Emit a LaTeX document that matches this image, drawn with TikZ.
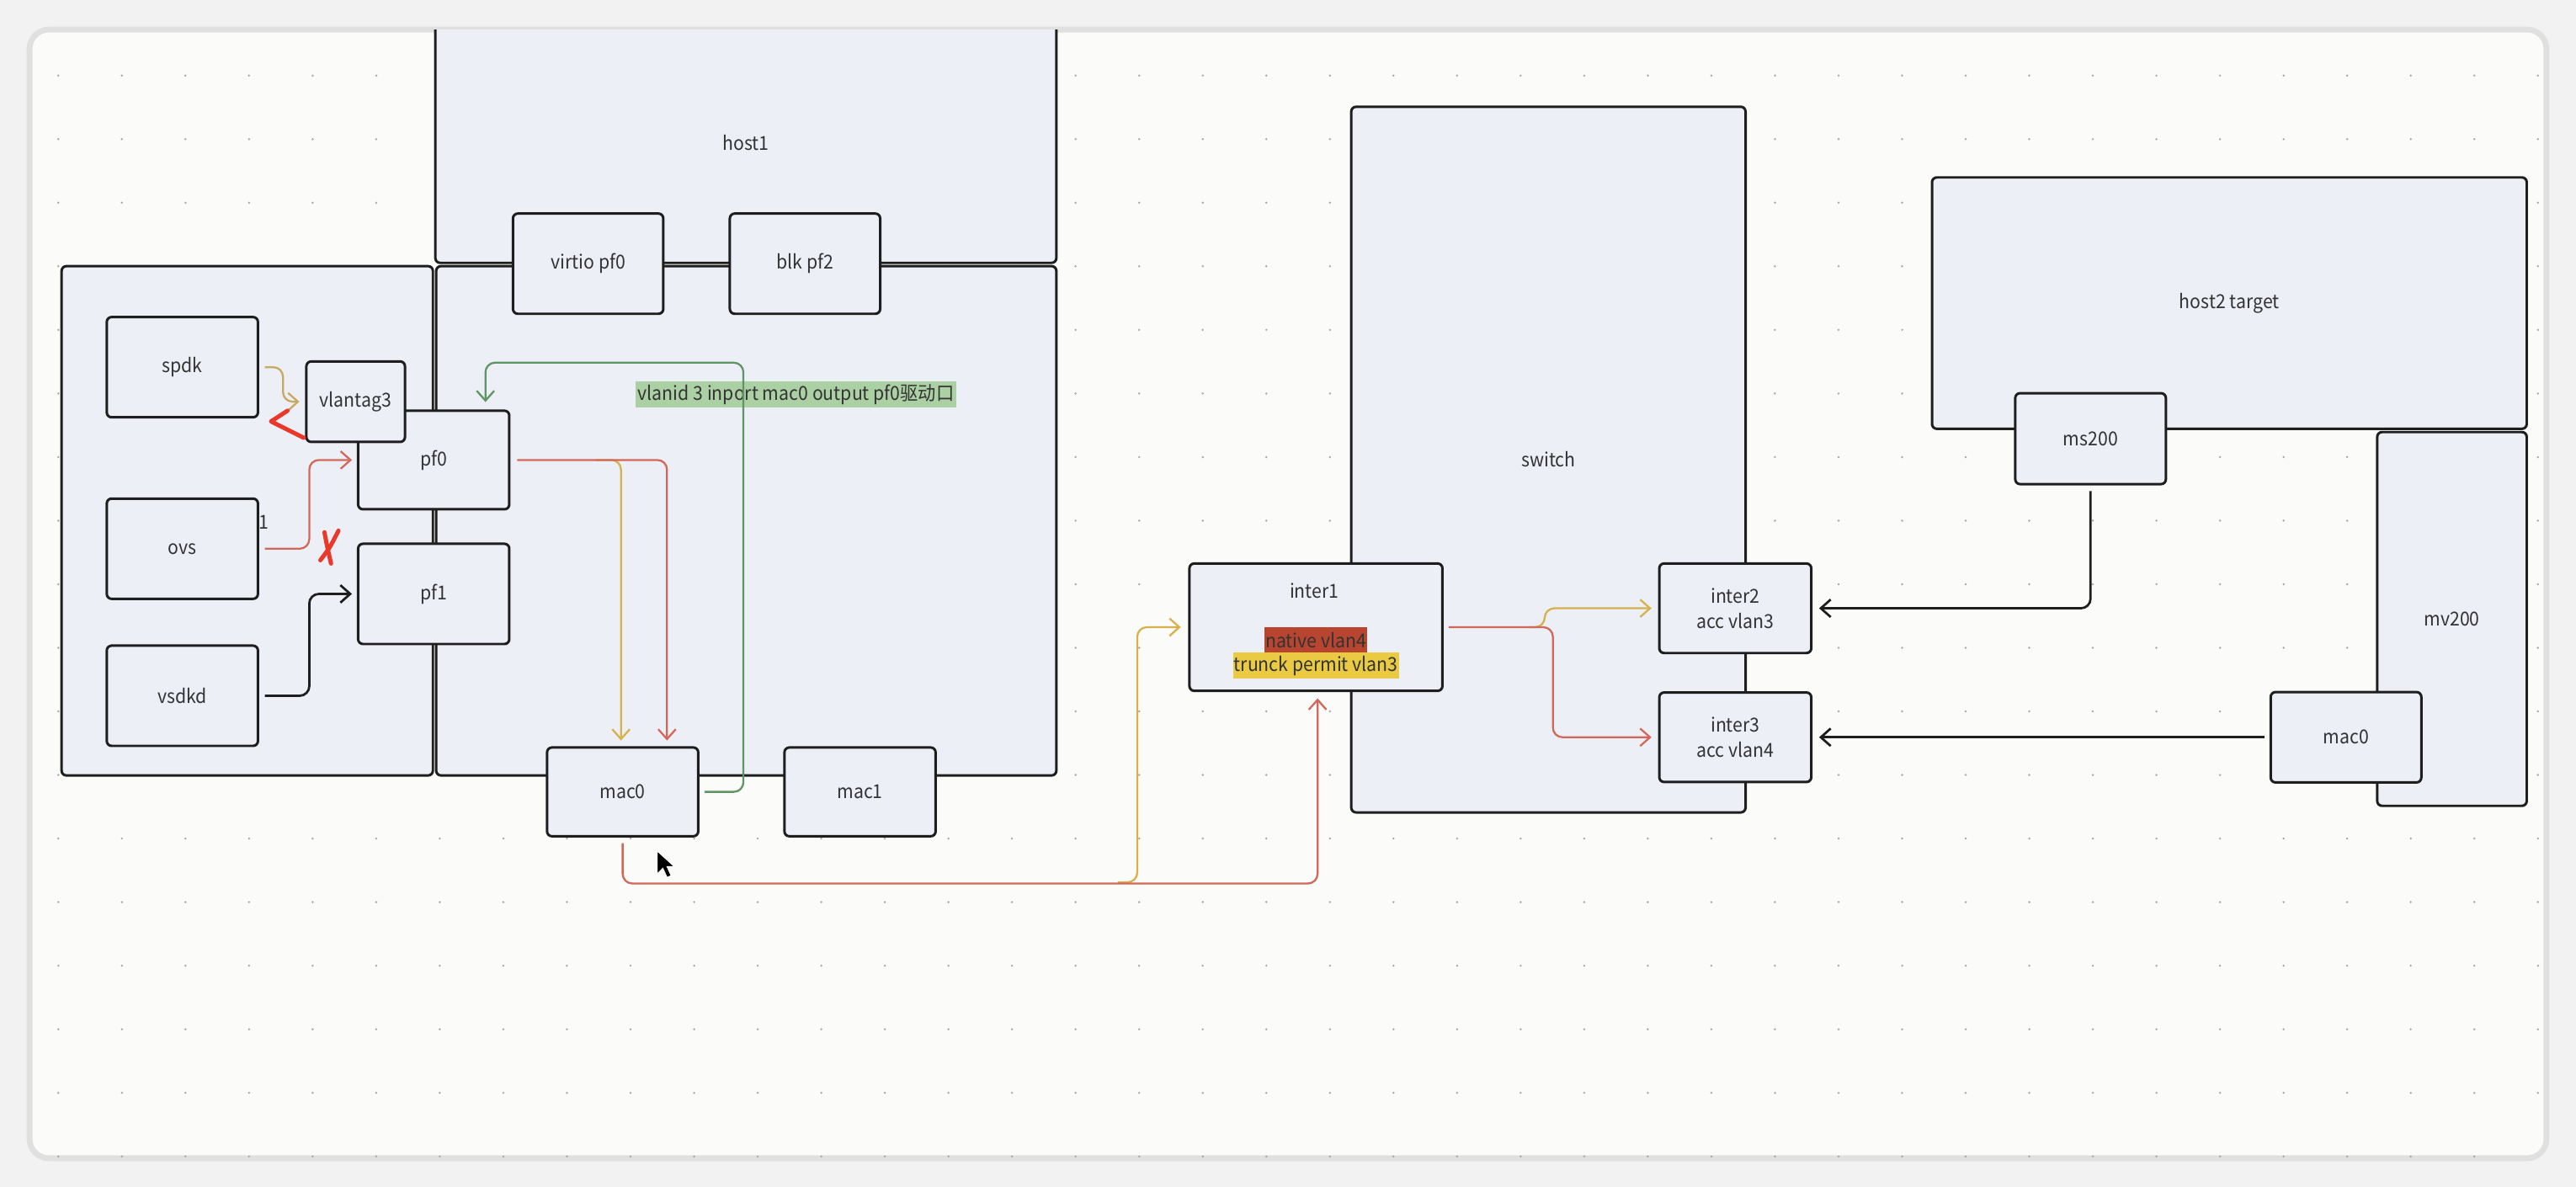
\documentclass[tikz,border=0pt]{standalone}
\usepackage{fontspec}
\setmainfont[FakeStretch=0.93]{Noto Sans CJK SC}
\usetikzlibrary{arrows.meta, calc}
\definecolor{canvas}{HTML}{FBFBF9}
\definecolor{outside}{HTML}{F2F2F2}
\definecolor{boxfill}{HTML}{ECEFF6}
\definecolor{edge}{HTML}{1E1E1E}
\definecolor{txt}{HTML}{333333}
\definecolor{dotc}{HTML}{A8A8A8}
\definecolor{redc}{HTML}{D2685A}
\definecolor{yelc}{HTML}{D6B14C}
\definecolor{tanc}{HTML}{C9A861}
\definecolor{grnc}{HTML}{5E9562}
\definecolor{pen}{HTML}{E8392B}
\definecolor{hlgreen}{HTML}{ABD0A4}
\definecolor{hlred}{HTML}{B8452F}
\definecolor{hlyel}{HTML}{E9CA42}

\begin{document}
\begin{tikzpicture}[x=0.03cm, y=-0.03cm, >={Straight Barb[length=1.8mm, width=3.2mm]},
  every node/.style={font=\fontsize{10}{13}\selectfont, text=txt},
  box/.style={draw=edge, fill=boxfill, line width=1.3pt, rounded corners=2.5pt, align=center, inner sep=0pt},
  port/.style={box, minimum width=2.76cm, minimum height=1.83cm},
  link/.style={->, line width=1pt, rounded corners=5pt},
  scrawl/.style={draw=pen, line width=2.2pt, line cap=round, line join=round}]
  \useasboundingbox (0,0) rectangle (1568,722.5);
  \fill[outside] (0,0) rectangle (1568,722.5);
  \draw[black!12, line width=3pt, fill=canvas, rounded corners=10pt] (18,18) rectangle (1550,705);
  \begin{scope}
  \clip[rounded corners=10pt] (18,18) rectangle (1550,705);
  \foreach \i in {0,...,39} \foreach \j in {0,...,17}
    \fill[dotc] (35.5+38.7*\i, 46+38.7*\j) circle (0.6pt);

  \node[box, minimum width=11.34cm, minimum height=4.38cm] (host1) at (454,87) {host1};
  \node[box, minimum width=11.325cm, minimum height=9.3cm] (hostlow) at (454.25,317) {};
  \node[box, minimum width=6.78cm, minimum height=9.3cm] (leftbox) at (150.5,317) {};
  \node[box, minimum width=7.2cm, minimum height=12.885cm] (switch) at (942.5,279.75) {switch};
  \node[box, minimum width=10.86cm, minimum height=4.59cm] (host2) at (1357,184.5) {host2 target};
  \node[box, minimum width=2.73cm, minimum height=6.825cm] (mv200) at (1492.5,376.75) {mv200};

  \node[port, minimum width=2.745cm] (virtio) at (358,160.5) {virtio pf0};
  \node[port, minimum width=2.745cm] (blk) at (490,160.5) {blk pf2};
  \node[port] (spdk) at (111,223.5) {spdk};
  \node[port] (ovs) at (111,334) {ovs};
  \node[port] (vsdkd) at (111,423.5) {vsdkd};
  \node[port, minimum height=1.8cm] (pf0) at (264,280) {pf0};
  \node[port] (pf1) at (264,361.5) {pf1};
  \node[box, minimum width=1.8cm, minimum height=1.47cm] (vlantag) at (216.5,244.5) {vlantag3};
  \node[port, minimum height=1.62cm] (mac0) at (379,482) {mac0};
  \node[port, minimum height=1.62cm] (mac1) at (523.5,482) {mac1};
  \node (one) at (160.5,318) {1};

  \node[box, minimum width=4.62cm, minimum height=2.325cm] (inter1) at (801,381.75) {};
  \node (inter1txt) at (800,359.5) {inter1};
  \node[fill=hlred, inner xsep=0.5pt, inner ysep=0pt, minimum height=0.47cm] (native) at (801,389.5) {native vlan4};
  \node[fill=hlyel, inner xsep=0.5pt, inner ysep=0pt, minimum height=0.47cm] (trunk) at (801,405.2) {trunck permit vlan3};
  \node[port, minimum width=2.775cm, minimum height=1.635cm] (inter2) at (1056.25,370.25) {inter2\\acc vlan3};
  \node[port, minimum width=2.775cm, minimum height=1.635cm] (inter3) at (1056.25,448.75) {inter3\\acc vlan4};
  \node[port, minimum width=2.75cm, minimum height=1.66cm] (ms200) at (1272.5,267) {ms200};
  \node[port, minimum width=2.75cm, minimum height=1.65cm] (mac0r) at (1428,448.75) {mac0};

  \node[fill=hlgreen, inner xsep=1pt, inner ysep=0pt, minimum height=0.48cm] (note) at (484.5,240) {vlanid 3 inport mac0 output pf0驱动口};

  \coordinate (pfsplit) at ($(pf0.east)+(52,0)$);
  \coordinate (railsplit) at ($(inter1.west)+(-43,155.25)$);
  \coordinate (trunksplit) at ($(inter1.east)+(52,0)$);

  \draw[link, tanc] ($(spdk.east)+(3.5,0)$) -- ++(11,0) |- ($(vlantag.west)+(-3.5,0)$);
  \draw[link, redc] ($(ovs.east)+(3.5,0)$) -- ++(27,0) |- ($(pf0.west)+(-3,0)$);
  \draw[link, edge, line width=1.2pt] ($(vsdkd.east)+(3.5,0)$) -- ++(27,0) |- ($(pf1.west)+(-3,0)$);
  \draw[link, yelc] (pfsplit) -| ($(mac0.north)+(-1,-3.5)$);
  \draw[link, redc] ($(pf0.east)+(4,0)$) -| ($(mac0.north)+(27,-3.5)$);
  \draw[link, grnc] ($(mac0.east)+(3,0)$) -| ($(pf0.north)+(188.5,-28.5)$) -| ($(pf0.north)+(31.5,-4.5)$);
  \draw[link, yelc] (railsplit) -| ($(inter1.west)+(-31,0)$) -- ($(inter1.west)+(-4.5,0)$);
  \draw[link, redc] ($(mac0.south)+(0,3.5)$) |- ($(inter1.south)+(1,116.5)$) -- ($(inter1.south)+(1,3.8)$);
  \draw[link, yelc] (trunksplit) -| ($(inter2.west)+(-69,0)$) -- ($(inter2.west)+(-4,0)$);
  \draw[link, redc] ($(inter1.east)+(3,0)$) -| ($(inter3.west)+(-64,-30)$) |- ($(inter3.west)+(-4,0)$);
  \draw[link, edge, line width=1.2pt] ($(ms200.south)+(0,3.5)$) |- ($(inter2.east)+(4,0)$);
  \draw[link, edge, line width=1.2pt] ($(mac0r.west)+(-3,0)$) -- ($(inter3.east)+(4,0)$);

  \draw[scrawl] (185,266.5) -- (165,256.5) -- (175,250);
  \draw[scrawl] (197.5,324) .. controls (199,332) .. (201.5,343);
  \draw[scrawl] (206,323) .. controls (201,333) .. (195,341);
  \filldraw[fill=black, draw=white, line width=0.4pt] (400,518) -- (400,532) -- (403.5,528.5) -- (406,534) -- (408.5,533) -- (406,527.5) -- (410.5,527.5) -- cycle;
  \end{scope}
\end{tikzpicture}
\end{document}
